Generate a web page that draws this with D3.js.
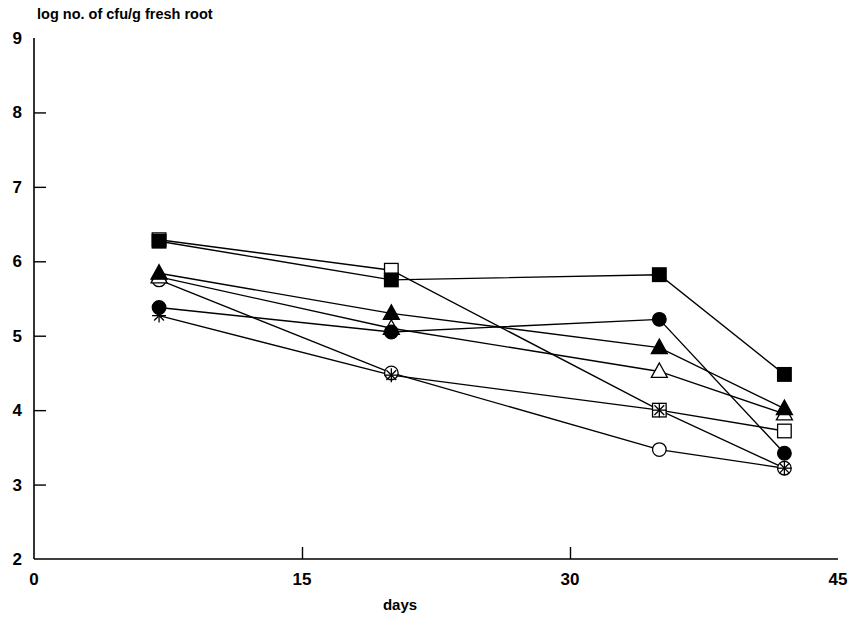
<!DOCTYPE html>
<html><head><meta charset="utf-8">
<script src="https://cdn.jsdelivr.net/npm/d3@7"></script>
<style>body{margin:0;background:#fff}svg text{font-family:"Liberation Sans",Arial,sans-serif;font-weight:bold;fill:#000}</style>
</head><body><svg id="c" width="855" height="618"></svg>
<script>
const days = [7, 20, 35, 42];
const filledSquare   = [6.27, 5.75, 5.82, 4.48];
const openSquare     = [6.29, 5.88, 4.00, 3.72];
const filledTriangle = [5.84, 5.30, 4.84, 4.02];
const openTriangle   = [5.79, 5.10, 4.52, 3.95];
const filledCircle   = [5.38, 5.05, 5.22, 3.42];
const openCircle     = [5.75, 4.50, 3.47, 3.22];
const star           = [5.27, 4.47, 4.00, 3.22];
const xTicks = [0, 15, 30, 45];
const yTicks = [2, 3, 4, 5, 6, 7, 8, 9];

const series = [
  {v: openCircle, shape: "circle", fill: false},
  {v: openTriangle, shape: "triangle", fill: false},
  {v: openSquare, shape: "square", fill: false},
  {v: filledCircle, shape: "circle", fill: true},
  {v: filledTriangle, shape: "triangle", fill: true},
  {v: filledSquare, shape: "square", fill: true},
  {v: star, shape: "star", fill: false}
];

const svg = d3.select("#c");
const x = d3.scaleLinear().domain([0, 45]).range([34, 838]);
const y = d3.scaleLinear().domain([2, 9]).range([559, 38]);

// axes
const gx = svg.append("g").attr("transform", `translate(0,${y(2)})`)
  .call(d3.axisTop(x).tickValues([15, 30]).tickSize(12).tickFormat(""));
gx.select(".domain").remove();
svg.append("line").attr("x1", x(0)).attr("x2", x(45)).attr("y1", y(2)).attr("y2", y(2)).attr("stroke", "#000").attr("stroke-width", 1.6);
const gy = svg.append("g").attr("transform", `translate(${x(0)},0)`)
  .call(d3.axisRight(y).tickValues([3, 4, 5, 6, 7, 8]).tickSize(12).tickFormat(""));
gy.select(".domain").remove();
svg.append("line").attr("x1", x(0)).attr("x2", x(0)).attr("y1", y(2)).attr("y2", y(9)).attr("stroke", "#000").attr("stroke-width", 1.6);
svg.selectAll(".tick line").attr("stroke", "#000").attr("stroke-width", 1.4);

svg.append("g").selectAll("text").data(yTicks).join("text")
  .attr("x", 22).attr("y", d => y(d) + 6).attr("text-anchor", "end")
  .style("font-size", "17px").text(d => d);
svg.append("g").selectAll("text").data(xTicks).join("text")
  .attr("x", d => x(d)).attr("y", 585).attr("text-anchor", "middle")
  .style("font-size", "17px").text(d => d);
svg.append("text").attr("x", 400).attr("y", 610).attr("text-anchor", "middle")
  .style("font-size", "15px").text("days");
svg.append("text").attr("x", 37).attr("y", 19)
  .style("font-size", "14.5px").text("log no. of cfu/g fresh root");

// lines
const line = d3.line().x((d, i) => x(days[i])).y(d => y(d));
svg.append("g").selectAll("path").data(series).join("path")
  .attr("d", s => line(s.v)).attr("fill", "none").attr("stroke", "#000").attr("stroke-width", 1.4);

// markers
const mg = svg.append("g");
series.forEach(s => {
  s.v.forEach((v, i) => {
    const cx = x(days[i]), cy = y(v);
    const fill = s.fill ? "#000" : "#fff";
    if (s.shape === "circle") {
      mg.append("circle").attr("cx", cx).attr("cy", cy).attr("r", 6.8)
        .attr("fill", fill).attr("stroke", "#000").attr("stroke-width", 1.3);
    } else if (s.shape === "square") {
      mg.append("rect").attr("x", cx - 6.8).attr("y", cy - 6.8).attr("width", 13.6).attr("height", 13.6)
        .attr("fill", fill).attr("stroke", "#000").attr("stroke-width", 1.3);
    } else if (s.shape === "triangle") {
      mg.append("path").attr("d", `M${cx},${cy - 8.5}L${cx + 8},${cy + 6}L${cx - 8},${cy + 6}Z`)
        .attr("fill", fill).attr("stroke", "#000").attr("stroke-width", 1.3);
    } else {
      const r = 7;
      const p = [[0, -r, 0, r], [-r, 0, r, 0], [-r * 0.7, -r * 0.7, r * 0.7, r * 0.7], [-r * 0.7, r * 0.7, r * 0.7, -r * 0.7]];
      p.forEach(q => mg.append("line").attr("x1", cx + q[0]).attr("y1", cy + q[1]).attr("x2", cx + q[2]).attr("y2", cy + q[3])
        .attr("stroke", "#000").attr("stroke-width", 1.3));
    }
  });
});
</script></body></html>
